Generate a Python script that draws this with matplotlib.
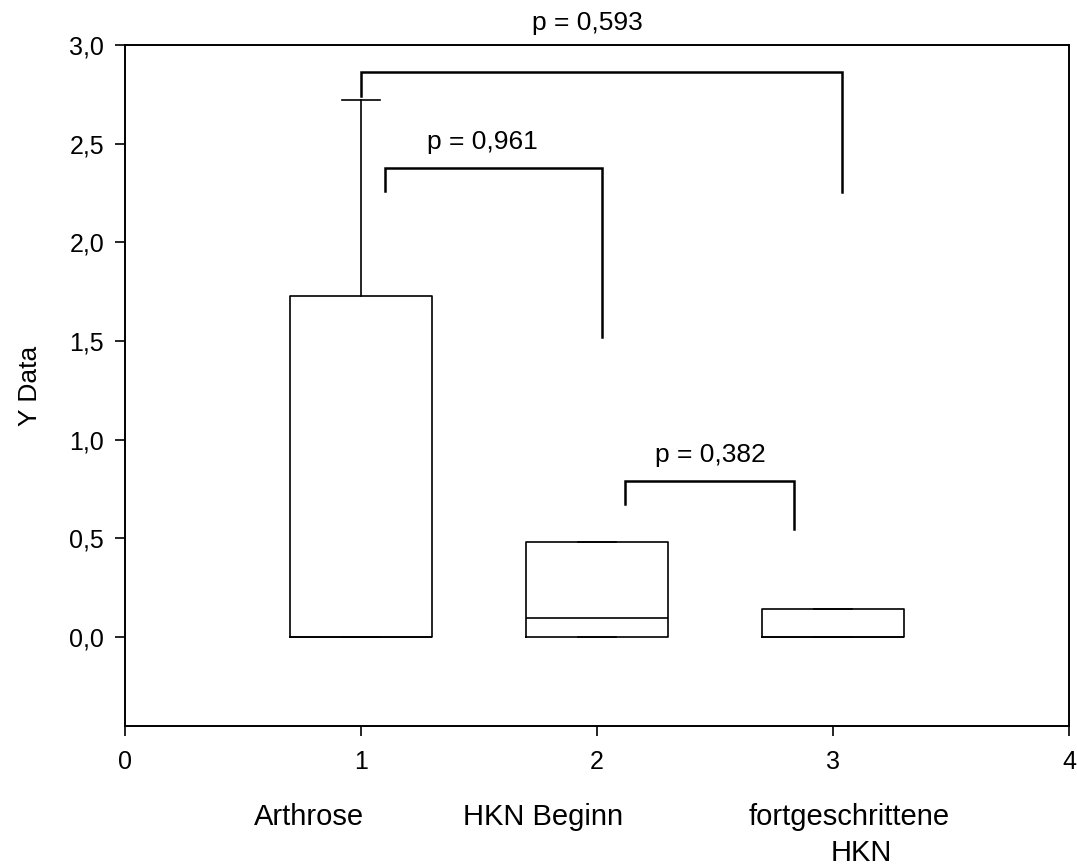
import matplotlib
matplotlib.use("Agg")
import matplotlib.pyplot as plt
import matplotlib.transforms as mtransforms

plt.rcParams['font.family'] = ['Liberation Sans', 'DejaVu Sans']

# ---- data ----
categories = ["Arthrose", "HKN Beginn", "fortgeschrittene"]
category_line2 = ["", "", "HKN"]
positions = [1, 2, 3]
q1 = [0.0, 0.0, 0.0]
median = [0.0, 0.095, 0.0]
q3 = [1.73, 0.48, 0.14]
whisker_low = [0.0, 0.0, 0.0]
whisker_high = [2.72, 0.48, 0.14]

comp_labels = ["p = 0,593", "p = 0,961", "p = 0,382"]
comp_x_left = [1.0, 1.10, 2.12]
comp_x_right = [3.04, 2.02, 2.835]
comp_y_bar = [2.865, 2.377, 0.79]
comp_y_left = [2.74, 2.26, 0.675]
comp_y_right = [2.255, 1.52, 0.547]
comp_label_x = [1.96, 1.515, 2.48]
comp_label_y = [3.05, 2.45, 0.86]

x_ticks = [0, 1, 2, 3, 4]
y_ticks = [0.0, 0.5, 1.0, 1.5, 2.0, 2.5, 3.0]
y_ticklabels = ["0,0", "0,5", "1,0", "1,5", "2,0", "2,5", "3,0"]
cat_label_x = [0.78, 1.77, 3.07]
cat2_label_x = [0.78, 1.77, 3.12]

fig = plt.figure(figsize=(10.77, 8.67), dpi=100)
ax = fig.add_axes([0.1161, 0.1627, 0.8765, 0.7854])

stats = []
for i in range(len(categories)):
    stats.append(dict(med=median[i], q1=q1[i], q3=q3[i],
                      whislo=whisker_low[i], whishi=whisker_high[i], fliers=[]))

lw = 1.2
ax.bxp(stats, positions=positions, widths=0.6, showfliers=False,
       boxprops=dict(color='black', linewidth=lw),
       medianprops=dict(color='black', linewidth=lw),
       whiskerprops=dict(color='black', linewidth=lw),
       capprops=dict(color='black', linewidth=lw),
       capwidths=0.16, manage_ticks=False)

for i in range(len(comp_labels)):
    ax.plot([comp_x_left[i], comp_x_left[i], comp_x_right[i], comp_x_right[i]],
            [comp_y_left[i], comp_y_bar[i], comp_y_bar[i], comp_y_right[i]],
            color='black', linewidth=1.8, solid_joinstyle='miter', clip_on=False)
    ax.text(comp_label_x[i], comp_label_y[i], comp_labels[i], ha='center',
            va='bottom', fontsize=19, clip_on=False)

ax.set_xlim(0, 4)
ax.set_ylim(-0.45, 3.0)
ax.set_xticks(x_ticks)
ax.set_xticklabels([str(t) for t in x_ticks])
ax.set_yticks(y_ticks)
ax.set_yticklabels(y_ticklabels)
ax.tick_params(axis='both', direction='out', length=7, width=1.2,
               labelsize=18)
ax.tick_params(axis='y', pad=8)
ax.tick_params(axis='x', pad=10)
for s in ax.spines.values():
    s.set_linewidth(1.4)

ax.set_ylabel("Y Data", fontsize=19, labelpad=20)

trans = mtransforms.blended_transform_factory(ax.transData, fig.transFigure)
for i, c in enumerate(categories):
    ax.text(cat_label_x[i], 1 - 825 / 867, c, transform=trans, ha='center',
            va='baseline', fontsize=21)
    if category_line2[i]:
        ax.text(cat2_label_x[i], 1 - 861 / 867, category_line2[i],
                transform=trans, ha='center', va='baseline', fontsize=21)

fig.savefig("out.png", dpi=100)
